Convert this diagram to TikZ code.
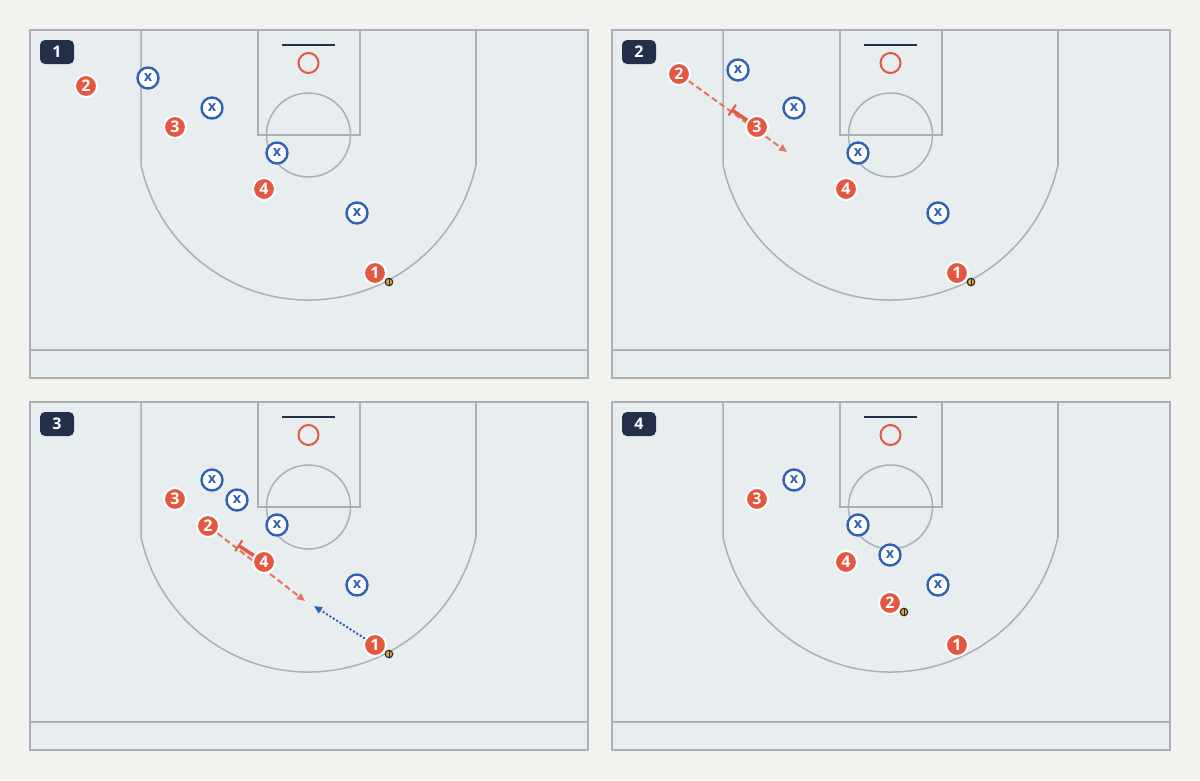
\documentclass[tikz,border=0pt]{standalone}
\usepackage{fontspec}
\setmainfont{Open Sans}
\usetikzlibrary{arrows.meta,calc}
\pgfdeclarelayer{court}
\pgfdeclarelayer{moves}
\pgfsetlayers{court,moves,main}
\definecolor{paper}{HTML}{F3F2EE}
\definecolor{floor}{HTML}{E8EDF0}
\definecolor{courtline}{HTML}{A9B0B8}
\definecolor{navy}{HTML}{22304A}
\definecolor{ored}{HTML}{E45841}
\definecolor{cutred}{HTML}{E8735F}
\definecolor{dblue}{HTML}{2D62B4}
\definecolor{ballor}{HTML}{E9A43B}
\tikzset{off/.style={circle,fill=ored,draw=white,line width=2pt,minimum size=22pt,inner sep=0pt,text=white,font=\bfseries\fontsize{16}{16}\selectfont}}
\tikzset{def/.style={circle,fill=white,draw=dblue,line width=2.4pt,minimum size=21pt,inner sep=0pt,text=dblue,font=\bfseries\fontsize{14.5}{14.5}\selectfont}}
\tikzset{ball/.style={circle,fill=ballor,draw=black!85,line width=1.1pt,minimum size=7.5pt,inner sep=0pt,
  path picture={\draw[black!85,line width=.6pt] (path picture bounding box.north) -- (path picture bounding box.south);}}}
\tikzset{badge/.style={rounded corners=5pt,fill=navy,text=white,minimum width=34pt,minimum height=24pt,inner sep=0pt,font=\bfseries\fontsize{16}{16}\selectfont}}
\tikzset{cut/.style={draw=cutred,line width=2pt,dash pattern=on 6pt off 3.5pt,-{Triangle[length=8pt,width=7pt]}}}
\tikzset{screen/.style={draw=ored,line width=3.5pt,-{Bar[width=13pt,line width=2pt]}}}
\tikzset{pass/.style={draw=dblue,line width=2pt,dash pattern=on 2pt off 2pt,-{Triangle[length=8pt,width=7pt]}}}

\begin{document}
\begin{tikzpicture}[x=1pt,y=-1pt]
  \useasboundingbox (0,0) rectangle (1200,780);
  \begin{pgfonlayer}{court}
    \fill[paper] (0,0) rectangle (1200,780);
    \foreach \px/\py/\k in {30/30/1,612/30/2,30/402/3,612/402/4}{
      \begin{scope}[shift={(\px,\py)}]
        \filldraw[fill=floor,draw=courtline,line width=1.6pt] (0,0) rectangle (558,348);
        \draw[courtline,line width=1.5pt] (0,320) -- (558,320);
        \draw[courtline,line width=1.5pt] (228,0) rectangle (330,105);
        \draw[courtline,line width=1.5pt] (278.5,105) circle[radius=42];
        \draw[courtline,line width=1.5pt] (111,0) -- (111,135)
          arc[start angle=167.74,end angle=12.26,radius=171.4];
        \draw[courtline,line width=1.5pt] (446,0) -- (446,135.5);
        \draw[navy,line width=2.5pt] (252,15) -- (305,15);
        \draw[ored,line width=2pt] (278.5,33) circle[radius=10];
        \node[badge] (tag\k) at (27,22) {\k};
      \end{scope}}
  \end{pgfonlayer}

  % panel 1
  \begin{scope}[shift={(30,30)}]
    \node[def] (xa1) at (118,48) {x};
    \node[def] (xa2) at (182,78) {x};
    \node[def] (xa3) at (247,123) {x};
    \node[def] (xa4) at (327,183) {x};
    \node[off] (oa2) at (56,56) {2};
    \node[off] (oa3) at (145,97) {3};
    \node[off] (oa4) at (234,159) {4};
    \node[off] (oa1) at (345,243) {1};
    \node[ball] (ba) at (359,252) {};
  \end{scope}

  % panel 2
  \begin{scope}[shift={(612,30)}]
    \node[def] (xb1) at (126,40) {x};
    \node[def] (xb2) at (182,78) {x};
    \node[def] (xb3) at (246,123) {x};
    \node[def] (xb4) at (326,183) {x};
    \node[off] (ob2) at (67,44) {2};
    \node[off] (ob3) at (145,97) {3};
    \node[off] (ob4) at (234,159) {4};
    \node[off] (ob1) at (345,243) {1};
    \node[ball] (bb) at (359,252) {};
    \coordinate (endb) at (175,122);
    \begin{pgfonlayer}{moves}
      \draw[cut] (ob2) -- (endb);
      \draw[screen] (ob3) -- ($(ob3)!31pt!(ob2)$);
    \end{pgfonlayer}
  \end{scope}

  % panel 3
  \begin{scope}[shift={(30,402)}]
    \node[def] (xc1) at (182,78) {x};
    \node[def] (xc2) at (207,98) {x};
    \node[def] (xc3) at (247,123) {x};
    \node[def] (xc4) at (327,183) {x};
    \node[off] (oc3) at (145,97) {3};
    \node[off] (oc2) at (178,124) {2};
    \node[off] (oc4) at (234,160) {4};
    \node[off] (oc1) at (345,243) {1};
    \node[ball] (bc) at (359,252) {};
    \coordinate (endc) at (275,199);
    \coordinate (passc) at (284,204);
    \begin{pgfonlayer}{moves}
      \draw[cut] (oc2) -- (endc);
      \draw[screen] (oc4) -- ($(oc4)!31pt!(oc2)$);
      \draw[pass] (oc1) -- (passc);
    \end{pgfonlayer}
  \end{scope}

  % panel 4
  \begin{scope}[shift={(612,402)}]
    \node[def] (xd1) at (182,78) {x};
    \node[def] (xd2) at (246,123) {x};
    \node[def] (xd3) at (278,153) {x};
    \node[def] (xd4) at (326,183) {x};
    \node[off] (od3) at (145,97) {3};
    \node[off] (od4) at (234,160) {4};
    \node[off] (od2) at (278,201) {2};
    \node[off] (od1) at (345,243) {1};
    \node[ball] (bd) at (292,210) {};
  \end{scope}
\end{tikzpicture}
\end{document}
